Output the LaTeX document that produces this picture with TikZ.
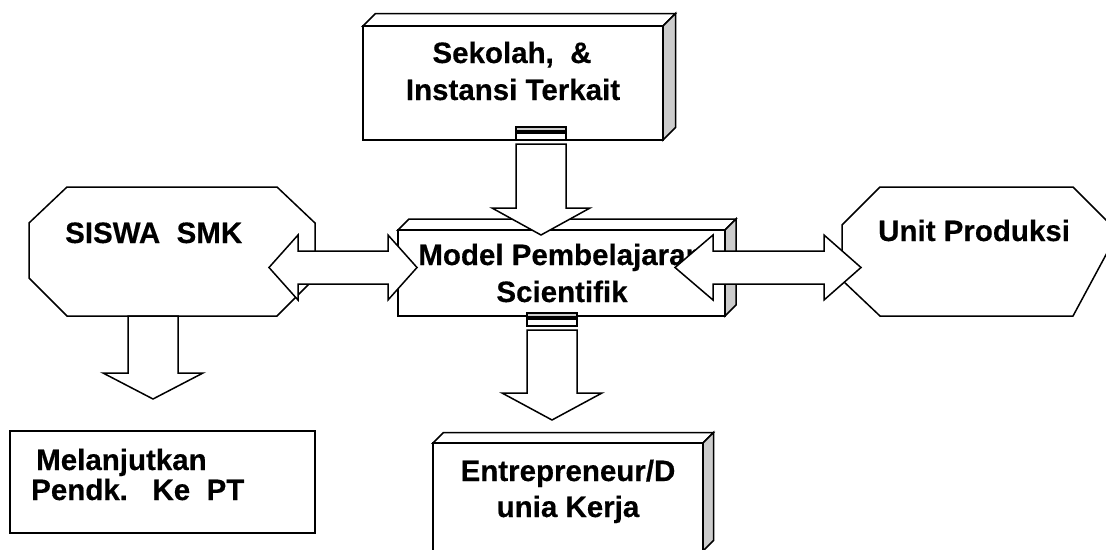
\documentclass[tikz,border=0pt]{standalone}
\usepackage{fontspec}
\setmainfont{Liberation Sans}[BoldFeatures={FakeBold=0.4}]
% front face (x1,y1)-(x2,y2), depth d; top face white, side face grey
\newcommand{\solidbox}[5]{%
  \draw[outline] (#1,#2) -- (#1+#5,#2-#5) -- (#3+#5,#2-#5) -- (#3,#2) -- cycle;
  \draw[sideface] (#3,#2) -- (#3+#5,#2-#5) -- (#3+#5,#4-#5) -- (#3,#4) -- cycle;
  \draw[outline] (#1,#2) rectangle (#3,#4);
}
\begin{document}
\begin{tikzpicture}[x=1pt,y=-1pt,
  outline/.style={draw=black,line width=1.5pt,line join=miter,fill=white},
  sideface/.style={outline,fill=gray!40},
  lbl/.style={font=\fontsize{29.5}{35}\selectfont\bfseries,inner sep=0pt,anchor=base},
  lblw/.style={lbl,anchor=base west}]
\useasboundingbox (0,0) rectangle (1106,549);
\clip (0,0) rectangle (1106,549);

% octagons
\draw[outline] (67,187) -- (277,187) -- (315,223) -- (315,278) -- (277,316)
  -- (67,316) -- (29,278) -- (29,223) -- cycle;
\draw[outline] (880,187) -- (1073,187) -- (1108,222) -- (1108,251) -- (1073,316)
  -- (880,316) -- (842,280) -- (842,225) -- cycle;

% solid boxes
\solidbox{363}{26}{663}{140}{12.5}
\solidbox{398}{230}{725}{316}{11}
\solidbox{433}{443}{703}{551}{10.5}
% flat box
\draw[outline] (10,431) rectangle (315,533);

% labels
\node[lblw] (siswa) at (65,243) {SISWA\ \ SMK};
\node[lblw] (unit) at (878,241) {Unit Produksi};
\node[lbl] (sek1) at (512,63) {Sekolah,\ \ \&};
\node[lbl] (sek2) at (513,100) {Instansi Terkait};
\node[lbl] (mod1) at (561,265) {Model Pembelajaran};
\node[lbl] (mod2) at (562,302) {Scientifik};
\node[lbl] (ent1) at (568,481) {Entrepreneur/D};
\node[lbl] (ent2) at (568,517) {unia Kerja};
\node[lblw] (lan1) at (36,470) {Melanjutkan};
\node[lblw] (lan2) at (31,500) {Pendk.\ \ \ Ke\ \ PT};

% striped down arrow from the top box
\draw[sideface] (516,127) rectangle (566,131);
\draw[outline] (516,133) rectangle (566,140);
\draw[outline] (516,144) -- (566,144) -- (566,208) -- (590,208) -- (541,235)
  -- (492,208) -- (516,208) -- cycle;

% striped down arrow from the middle box
\draw[sideface] (527,313) rectangle (577,317);
\draw[outline] (527,319) rectangle (577,326);
\draw[outline] (527,330) -- (577,330) -- (577,393) -- (602,393) -- (552,420)
  -- (502,393) -- (527,393) -- cycle;

% down arrow below the left octagon
\draw[outline] (128,316) -- (178,316) -- (178,373) -- (203,373) -- (153,399)
  -- (103,373) -- (128,373) -- cycle;

% double arrows
\draw[outline] (269,267.5) -- (298,235) -- (298,251) -- (388,251) -- (388,235)
  -- (417,267.5) -- (388,300) -- (388,284) -- (298,284) -- (298,300) -- cycle;
\draw[outline] (675,267.5) -- (713,235) -- (713,251) -- (824,251) -- (824,235)
  -- (861,267.5) -- (824,300) -- (824,284) -- (713,284) -- (713,300) -- cycle;
\end{tikzpicture}
\end{document}
